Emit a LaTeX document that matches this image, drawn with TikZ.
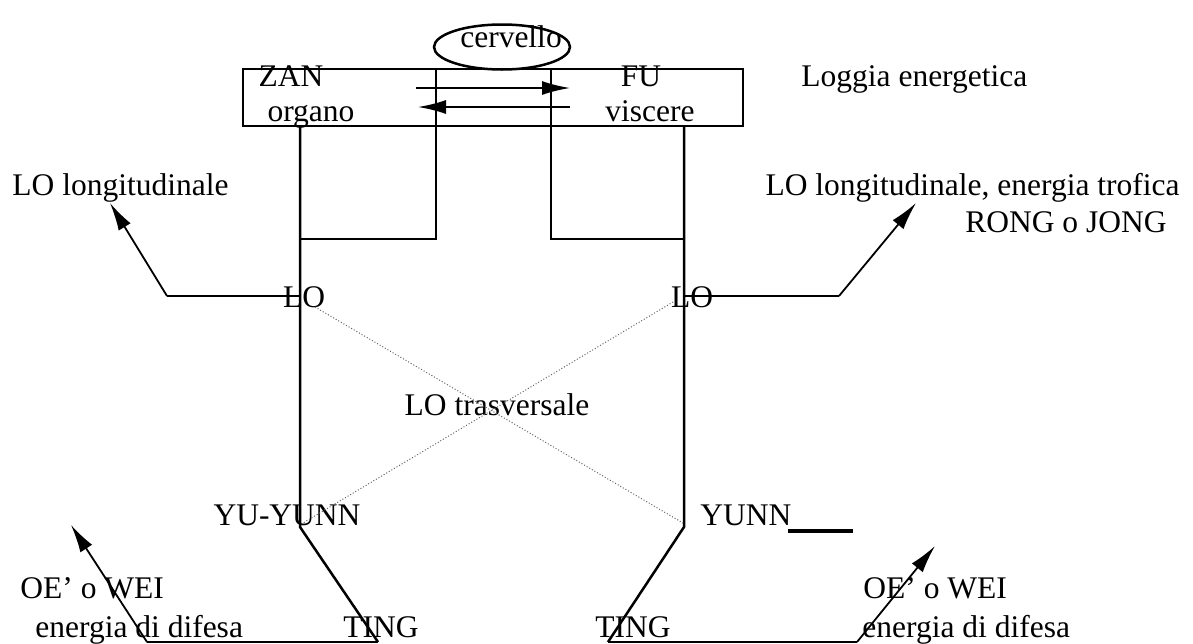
\documentclass[tikz,border=0pt]{standalone}
\usepackage{fontspec}
\setmainfont{Liberation Serif}
\usepackage{tikz}
\usetikzlibrary{arrows.meta,shapes,positioning,calc}
\definecolor{InkK}{RGB}{0,0,0}
\definecolor{DotG}{RGB}{100,100,100}

\begin{document}
\begin{tikzpicture}[x=0.5pt,y=-0.5pt,
    font=\fontsize{15.75}{18.5}\selectfont,
    txt/.style={inner sep=0pt,anchor=base},
    frame/.style={InkK,line width=1.25pt},
    lead/.style={InkK,line width=0.9pt,-{Latex[length=14pt,width=7pt]}},
    cross/.style={DotG,line width=0.5pt,densely dotted}]
    \useasboundingbox (0,0) rectangle (1193,643);

    % loggia and cervello
    \node[draw,frame,minimum width=250pt,minimum height=28.5pt,inner sep=0pt] (loggia) at (493,97.5) {};
    \node[draw,frame,ellipse,minimum width=68pt,minimum height=22.5pt,inner sep=0pt] (cerv) at (502,47) {};

    % points of the channels
    \foreach \n/\x/\y in {
      inLt/436/69, inRt/551/69, oLm/300/239, oRm/684/239,
      oLt/300/126, oLl/300/296, oLb/300/527, tgL/378/642,
      oRt/684/126, oRl/684/296, oRb/684/527, tgR/608/642,
      loL/167/296, tipL/110/203, loR/839/296, tipR/916/203,
      bL/147/642, tipBL/71/525, bR/857/642, tipBR/935/546,
      yA/788/531, yB/853/531,
      aA/416/88, aB/570/88, aC/570/107, aD/418/107,
      xA/315/307, xB/683/523, xC/673/302, xD/303/523}
      \coordinate (\n) at (\x,\y);

    % labels
    \foreach \n/\x/\y/\t in {
      cervT/511/47/cervello, zan/291/86/ZAN, organo/311/121/organo,
      fu/641/86/FU, visc/650/121/viscere, loA/304/307/LO, loB/692/307/LO,
      trasv/497/415/{LO trasversale}, yuyunn/287/525/YU-YUNN,
      tingL/381/637/TING, tingR/633/637/TING}
      \node[txt] (\n) at (\x,\y) {\t};
    \foreach \n/\x/\y/\t in {
      loggiaT/801/86/{Loggia energetica}, longL/12/195/{LO longitudinale},
      yunn/700/525/YUNN, oeL/20/598/{OE’ o WEI}, difL/35/637/{energia di difesa},
      oeR/863/598/{OE’ o WEI}, difR/862/637/{energia di difesa}}
      \node[txt,anchor=base west] (\n) at (\x,\y) {\t};
    \node[txt,anchor=base east] (longR) at (1180,195) {LO longitudinale, energia trofica};
    \node[txt,anchor=base east] (rong) at (1167,232) {RONG o JONG};

    \draw[frame] (inLt) |- (oLm);
    \draw[frame] (inRt) |- (oRm);
    \draw[frame] (oLt) -- (oLb) -- (tgL);
    \draw[frame] (oRt) -- (oRb) -- (tgR);
    \draw[frame] (oLl) -- (loL);
    \draw[frame] (oRl) -- (loR);
    \draw[lead] (loL) -- (tipL);
    \draw[lead] (loR) -- (tipR);
    \draw[lead] (aA) -- (aB);
    \draw[lead] (aC) -- (aD);
    \draw[InkK,line width=0.8pt] (tgL) -- (bL);
    \draw[InkK,line width=0.8pt] (tgR) -- (bR);
    \draw[lead] (bL) -- (tipBL);
    \draw[lead] (bR) -- (tipBR);
    \draw[InkK,line width=2pt] (yA) -- (yB);
    \draw[cross] (xA) -- (xB);
    \draw[cross] (xC) -- (xD);
\end{tikzpicture}
\end{document}
